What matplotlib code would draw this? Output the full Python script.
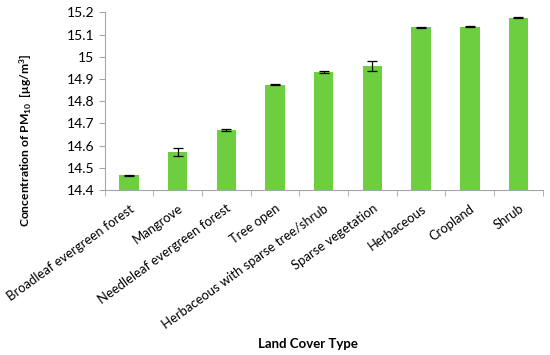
import numpy as np
import matplotlib.pyplot as plt

# valores
tipos = ["Broadleaf evergreen forest", "Mangrove", "Needleleaf evergreen forest",
         "Tree open", "Herbaceous with sparse tree/shrub", "Sparse vegetation",
         "Herbaceous", "Cropland", "Shrub"]
pm10 = [14.467, 14.570, 14.670, 14.875, 14.931, 14.960, 15.133, 15.136, 15.176]
error = [0.002, 0.019, 0.003, 0.002, 0.004, 0.022, 0.002, 0.003, 0.003]
y_ticks = [14.4, 14.5, 14.6, 14.7, 14.8, 14.9, 15.0, 15.1, 15.2]
y_labels = ["14.4", "14.5", "14.6", "14.7", "14.8", "14.9", "15", "15.1", "15.2"]

plt.rcParams['font.family'] = ['Lato', 'DejaVu Sans']
plt.rcParams['mathtext.default'] = 'regular'

fig = plt.figure(figsize=(5.5, 3.55), dpi=100)
ax = fig.add_axes([0.19, 0.465, 0.797, 0.5])

x = np.arange(len(tipos))
ax.bar(x, np.array(pm10) - 14.4, bottom=14.4, width=0.4, color="#6dcf40",
       yerr=error, capsize=3.5, error_kw=dict(ecolor="black", elinewidth=0.9, capthick=0.9))

ax.set_xlim(-0.5, len(tipos) - 0.5)
ax.set_ylim(14.4, 15.2)
ax.set_yticks(y_ticks)
ax.set_yticklabels(y_labels, fontsize=10)

ax.set_xticks(x)
ax.set_xticklabels(tipos, rotation=36, ha="right", rotation_mode="anchor", fontsize=9.4)
ax.tick_params(axis="x", which="major", length=0, pad=9)
ax.set_xticks(np.arange(-0.5, len(tipos), 1), minor=True)
ax.tick_params(axis="x", which="minor", length=4, color="#a6a6a6")
ax.tick_params(axis="y", length=4, color="#a6a6a6")

for lado in ["top", "right"]:
    ax.spines[lado].set_visible(False)
for lado in ["left", "bottom"]:
    ax.spines[lado].set_color("#a6a6a6")

ax.set_ylabel("Concentration of PM$_{10}$  [μg/m$^3$]", fontsize=8.7, fontweight="bold")
ax.yaxis.set_label_coords(-0.16, 0.28)
fig.text(0.56, 0.02, "Land Cover Type", ha="center", fontsize=9.5, fontweight="bold")

fig.savefig("out.png", dpi=100)
